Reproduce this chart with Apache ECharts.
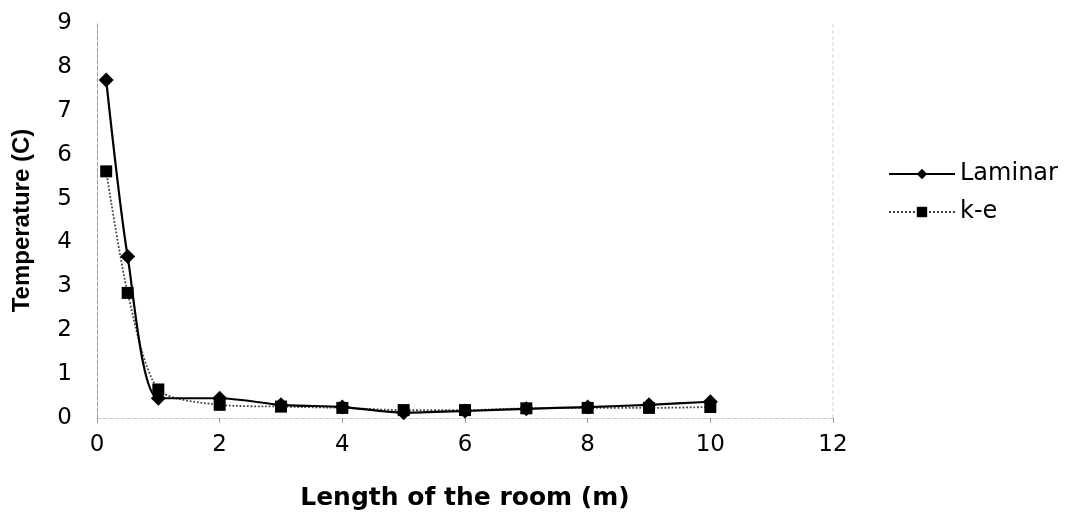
<!DOCTYPE html>
<html>
<head>
<meta charset="utf-8">
<script src="https://cdn.jsdelivr.net/npm/echarts@6/dist/echarts.min.js"></script>
<style>
  html, body { margin: 0; padding: 0; background: #fff; }
  #chart { width: 1072px; height: 529px; }
</style>
</head>
<body>
<div id="chart"></div>
<script>
// Temperature along the room, two flow models
const positions = [0.15, 0.5, 1, 2, 3, 4, 5, 6, 7, 8, 9, 10];
const laminar = [7.7, 3.68, 0.45, 0.45, 0.3, 0.25, 0.12, 0.16, 0.21, 0.25, 0.3, 0.37];
const kEpsilon = [5.62, 2.85, 0.65, 0.3, 0.26, 0.23, 0.18, 0.18, 0.22, 0.23, 0.23, 0.25];
const xTicks = [0, 2, 4, 6, 8, 10, 12];
const yTicks = [0, 1, 2, 3, 4, 5, 6, 7, 8, 9];

const pairs = (xs, ys) => xs.map((x, i) => [x, ys[i]]);
const wide = "'DejaVu Sans', sans-serif";
const narrow = "'Liberation Sans', Arial, sans-serif";

const chart = echarts.init(document.getElementById('chart'));
chart.setOption({
  animation: false,
  backgroundColor: '#fff',
  grid: { left: 97, right: 239, top: 23, bottom: 111 },
  xAxis: {
    type: 'value',
    min: xTicks[0], max: xTicks[xTicks.length - 1], interval: 2,
    name: 'Length of the room (m)',
    nameLocation: 'middle', nameGap: 68,
    nameTextStyle: { fontFamily: wide, fontSize: 25, fontWeight: 'bold', color: '#000' },
    axisLine: { show: true, lineStyle: { color: '#ccc', type: 'dashed', width: 1 } },
    axisTick: { show: true, length: 5, lineStyle: { color: '#999' } },
    axisLabel: { fontFamily: wide, fontSize: 23, color: '#000', margin: 16 },
    splitLine: { show: false }
  },
  yAxis: {
    type: 'value',
    min: yTicks[0], max: yTicks[yTicks.length - 1], interval: 1,
    name: 'Temperature (C)',
    nameLocation: 'middle', nameGap: 63, nameRotate: 90,
    nameTextStyle: { fontFamily: narrow, fontSize: 24, fontWeight: 'bold', color: '#000' },
    axisLine: { show: true, lineStyle: { color: '#999', type: 'dashed', width: 1 } },
    axisTick: { show: false },
    axisLabel: { fontFamily: wide, fontSize: 23, color: '#000', margin: 25 },
    splitLine: { show: false }
  },
  legend: {
    orient: 'vertical',
    left: 883, top: 157,
    itemGap: 14,
    itemWidth: 66, itemHeight: 13,
    textStyle: { fontFamily: wide, fontSize: 24, color: '#000' },
    data: ['Laminar', 'k-e']
  },
  series: [
    {
      name: 'Laminar',
      type: 'line',
      data: pairs(positions, laminar),
      smooth: 0.25,
      symbol: 'diamond', symbolSize: 15,
      lineStyle: { color: '#000', width: 2.2 },
      itemStyle: { color: '#000' },
      z: 3
    },
    {
      name: 'k-e',
      type: 'line',
      data: pairs(positions, kEpsilon),
      smooth: 0.25,
      symbol: 'rect', symbolSize: 12,
      lineStyle: { color: '#444', width: 1.8, type: 'dotted' },
      itemStyle: { color: '#000' },
      z: 2
    },
    {
      // right-hand frame of the plot area
      type: 'line',
      data: [[12, 0], [12, 9]],
      symbol: 'none',
      silent: true,
      lineStyle: { color: '#d4d4d4', type: 'dashed', width: 1 },
      z: 1
    }
  ]
});
</script>
</body>
</html>
